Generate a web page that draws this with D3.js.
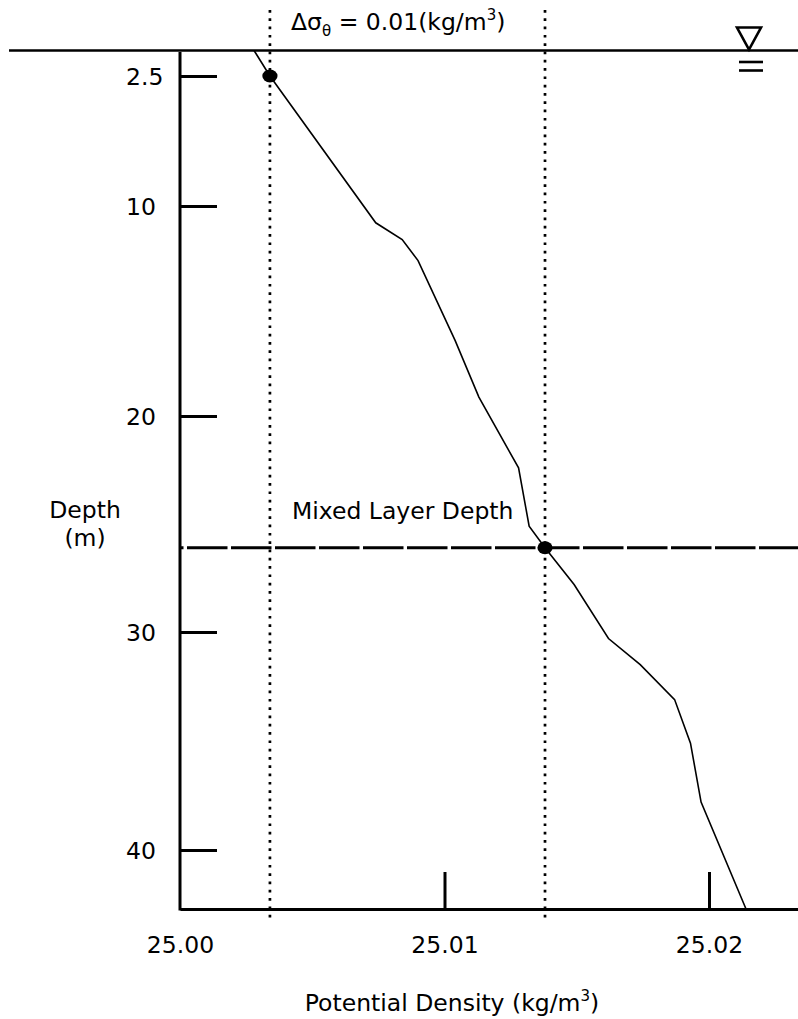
<!DOCTYPE html>
<html>
<head>
<meta charset="utf-8">
<script src="https://cdn.jsdelivr.net/npm/d3@7"></script>
<style>
  html, body { margin: 0; padding: 0; background: #fff; }
  svg { display: block; }
  text { font-family: "DejaVu Sans", sans-serif; fill: #000; }
</style>
</head>
<body>
<svg id="chart" width="798" height="1019"></svg>
<script>
// Density profile: potential density (kg/m^3) against depth (m)
const profileDensity = [25.0028, 25.0034, 25.0074, 25.0084, 25.0090, 25.0104, 25.0113,
                        25.0128, 25.0132, 25.0138, 25.0149, 25.0162, 25.0174, 25.0187,
                        25.0193, 25.0197, 25.0214];
const profileDepth   = [1.0, 2.5, 10.8, 11.6, 12.6, 16.4, 19.1,
                        22.4, 25.1, 26.1, 27.8, 30.3, 31.5, 33.1,
                        35.1, 37.8, 42.7];

// Reference point near the surface and the mixed-layer base
const refDepth = 2.5;
const refDensity = 25.0034;
const mldDepth = 26.1;
const mldDensity = 25.0138;

// Axis ticks
const depthTicks = [2.5, 10, 20, 30, 40];
const depthTickLabels = ["2.5", "10", "20", "30", "40"];
const densityTicks = [25.00, 25.01, 25.02];
const densityTickLabels = ["25.00", "25.01", "25.02"];

// Depth range shown (sea surface to bottom of the frame)
const depthTop = 1.0;
const depthBottom = 42.7;

const svg = d3.select("#chart");
const FONT = 23.5;

// Scales
const x = d3.scaleLinear().domain([25.00, 25.02]).range([180, 709]);
const xFull = x.copy().domain([25.00, x.invert(798)]).range([180, 798]);
const y = d3.scaleLinear()
  .domain([depthTop, 2.5, 10, 20, 30, 40, depthBottom])
  .range([50.5, 76, 206, 416, 632, 850, 909]);

// Sea-surface line
svg.append("line")
  .attr("x1", 9).attr("x2", 798)
  .attr("y1", y(depthTop)).attr("y2", y(depthTop))
  .attr("stroke", "#000").attr("stroke-width", 2.7);

// Water-level symbol
const wx = 749, wy = y(depthTop);
svg.append("path")
  .attr("d", `M${wx - 12},${wy - 23} L${wx + 12},${wy - 23} L${wx},${wy - 1} Z`)
  .attr("fill", "none").attr("stroke", "#000").attr("stroke-width", 2.6)
  .attr("stroke-linejoin", "miter");
[11.5, 20].forEach(d => {
  svg.append("line")
    .attr("x1", wx - 10).attr("x2", wx + 14)
    .attr("y1", wy + d).attr("y2", wy + d)
    .attr("stroke", "#000").attr("stroke-width", 2.6);
});

// Y axis (depth), ticks pointing into the plot
const yAxis = d3.axisLeft(y)
  .tickValues(depthTicks)
  .tickFormat((d, i) => depthTickLabels[i])
  .tickSizeInner(-37)
  .tickSizeOuter(0);
const gy = svg.append("g").attr("transform", "translate(180,0)").call(yAxis);
gy.select(".domain")
  .attr("d", `M0,${y(depthTop) + 1.5}V${y(depthBottom) + 1.5}`)
  .attr("stroke-width", 3);
gy.selectAll(".tick line").attr("stroke-width", 3);
gy.selectAll(".tick text")
  .attr("x", -54).attr("dy", "0.36em")
  .attr("text-anchor", "start")
  .style("font-size", FONT + "px")
  .style("font-family", "'DejaVu Sans', sans-serif");

// X axis (potential density), ticks pointing up
const xAxis = d3.axisBottom(xFull)
  .tickValues(densityTicks)
  .tickFormat((d, i) => densityTickLabels[i])
  .tickSizeInner(-37)
  .tickSizeOuter(0);
const gx = svg.append("g").attr("transform", `translate(0,${y(depthBottom)})`).call(xAxis);
gx.select(".domain").attr("stroke-width", 3);
gx.selectAll(".tick line")
  .attr("stroke-width", 3)
  .attr("display", d => d === densityTicks[0] ? "none" : null);
gx.selectAll(".tick text")
  .attr("y", 44).attr("dy", 0)
  .style("font-size", FONT + "px")
  .style("font-family", "'DejaVu Sans', sans-serif");

// Dotted verticals at the reference density and the threshold density
[refDensity, mldDensity].forEach(d => {
  svg.append("line")
    .attr("x1", x(d)).attr("x2", x(d))
    .attr("y1", 10).attr("y2", 920)
    .attr("stroke", "#000").attr("stroke-width", 2.7)
    .attr("stroke-dasharray", "2.7,5.6");
});

// Dashed mixed-layer-depth line
svg.append("line")
  .attr("x1", 180).attr("x2", 798)
  .attr("y1", y(mldDepth)).attr("y2", y(mldDepth))
  .attr("stroke", "#000").attr("stroke-width", 3.2)
  .attr("stroke-dasharray", "40.5,3.5")
  .attr("stroke-dashoffset", 37);

// Profile curve
const profile = profileDepth.map((d, i) => ({ depth: d, density: profileDensity[i] }));
svg.append("path")
  .datum(profile)
  .attr("fill", "none").attr("stroke", "#000").attr("stroke-width", 1.6)
  .attr("d", d3.line().x(p => x(p.density)).y(p => y(p.depth)));

// Markers
[[refDensity, refDepth], [mldDensity, mldDepth]].forEach(([dn, dp]) => {
  svg.append("ellipse")
    .attr("cx", x(dn)).attr("cy", y(dp))
    .attr("rx", 7.6).attr("ry", 6.4)
    .attr("fill", "#000");
});

// Annotations
svg.append("text")
  .attr("x", 292).attr("y", 519)
  .style("font-size", FONT + "px")
  .text("Mixed Layer Depth");

const delta = svg.append("text")
  .attr("x", 291).attr("y", 30)
  .style("font-size", FONT + "px");
delta.append("tspan").text("Δσ");
delta.append("tspan").attr("dy", 6).style("font-size", "15px").text("θ");
delta.append("tspan").attr("dy", -6).text(" = 0.01(kg/m");
delta.append("tspan").attr("dy", -10).style("font-size", "15px").text("3");
delta.append("tspan").attr("dy", 10).text(")");

// Axis titles
svg.append("text")
  .attr("x", 85).attr("y", 518)
  .attr("text-anchor", "middle")
  .style("font-size", FONT + "px")
  .text("Depth");
svg.append("text")
  .attr("x", 85).attr("y", 546)
  .attr("text-anchor", "middle")
  .style("font-size", FONT + "px")
  .text("(m)");

const xt = svg.append("text")
  .attr("x", 452).attr("y", 1011)
  .attr("text-anchor", "middle")
  .style("font-size", FONT + "px");
xt.append("tspan").text("Potential Density (kg/m");
xt.append("tspan").attr("dy", -10).style("font-size", "15px").text("3");
xt.append("tspan").attr("dy", 10).text(")");
</script>
</body>
</html>
